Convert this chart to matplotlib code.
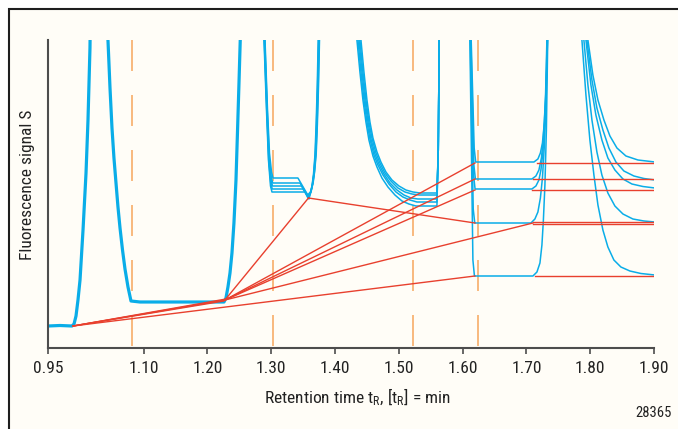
import matplotlib
matplotlib.use("Agg")
import matplotlib.pyplot as plt
from matplotlib import font_manager
from matplotlib.patches import Rectangle

names = {f.name for f in font_manager.fontManager.ttflist}
FAM = "Liberation Sans"
for cand in ["Liberation Sans Narrow", "Roboto Condensed", "Open Sans Condensed", "Arial Narrow"]:
    if cand in names:
        FAM = cand
        break
plt.rcParams["font.family"] = [FAM, "DejaVu Sans"]
plt.rcParams["mathtext.fontset"] = "custom"
plt.rcParams["mathtext.rm"] = FAM
plt.rcParams["mathtext.it"] = FAM
plt.rcParams["lines.scale_dashes"] = False

# ---------------- data (retention time in min, signal in arbitrary units) ----------------
x_ticks = [0.95, 1.10, 1.20, 1.30, 1.40, 1.50, 1.60, 1.70, 1.80, 1.90]
x_tick_labels = ["0.95", "1.10", "1.20", "1.30", "1.40", "1.50", "1.60", "1.70", "1.80", "1.90"]
marker_times = [1.0817, 1.3027, 1.5221, 1.6240]

# part shared by all five runs (baseline, first peak, first plateau, rising edge of 2nd peak)
common_t = [0.9500, 0.9688, 0.9876, 0.9908, 0.9939, 0.9970, 1.0002, 1.0049, 1.0096, 1.0127, 1.0158,
            1.0299, 1.0440, 1.0472, 1.0503, 1.0534, 1.0566, 1.0597, 1.0629, 1.0668, 1.0707, 1.0754,
            1.0801, 1.0942, 1.2259, 1.2290, 1.2321, 1.2353, 1.2384, 1.2415, 1.2447, 1.2470, 1.2494,
            1.2517, 1.2697]
common_s = [22, 22.5, 22, 24, 32, 48, 68, 118, 175, 228, 300,
            1000, 308, 260, 220, 190, 165, 141, 120, 98, 79, 61,
            47, 46, 46, 50, 61, 75, 95, 125, 168, 215, 265,
            315, 1000]

run1 = [(1.2697, 1000), (1.2886, 308), (1.2925, 238), (1.2956, 188), (1.2988, 162), (1.3011, 156),
        (1.3528, 156), (1.3567, 151), (1.3591, 149),
        (1.3606, 153), (1.3638, 162), (1.3661, 173), (1.3685, 193), (1.3703, 223), (1.3721, 263), (1.3736, 308),
        (1.4045, 1000),
        (1.4343, 308), (1.4390, 276), (1.4437, 248), (1.4484, 226), (1.4531, 208), (1.4594, 192), (1.4657, 181),
        (1.4735, 170), (1.4829, 161), (1.4939, 153), (1.5049, 147), (1.5158, 144), (1.5268, 142), (1.5597, 142),
        (1.5618, 198), (1.5633, 308), (1.5879, 1000),
        (1.6114, 308), (1.6161, 88), (1.6185, 72), (1.7102, 72),
        (1.7165, 76), (1.7212, 85), (1.7243, 103), (1.7266, 128), (1.7290, 163), (1.7313, 218), (1.7334, 308),
        (1.7603, 1000),
        (1.7870, 308), (1.7933, 253), (1.7995, 208), (1.8058, 173), (1.8121, 143), (1.8199, 118), (1.8277, 101),
        (1.8371, 88), (1.8481, 81), (1.8622, 77), (1.8795, 74.5), (1.9014, 73)]

run2 = [(1.2697, 1000), (1.2890, 308), (1.2929, 238), (1.2960, 188), (1.2992, 165), (1.3015, 159),
        (1.3497, 159), (1.3586, 150),
        (1.3611, 154), (1.3643, 163), (1.3666, 174), (1.3690, 193), (1.3708, 223), (1.3726, 263), (1.3741, 308),
        (1.4045, 1000),
        (1.4359, 308), (1.4406, 276), (1.4453, 248), (1.4500, 226), (1.4547, 209), (1.4610, 193), (1.4672, 183),
        (1.4751, 173), (1.4845, 164), (1.4955, 156), (1.5064, 151), (1.5174, 148), (1.5284, 146), (1.5597, 146),
        (1.5618, 198), (1.5633, 308), (1.5879, 1000),
        (1.6119, 308), (1.6166, 139), (1.6190, 125), (1.7071, 125),
        (1.7133, 129), (1.7180, 136), (1.7219, 150), (1.7251, 170), (1.7282, 203), (1.7309, 248), (1.7329, 308),
        (1.7603, 1000),
        (1.7901, 308), (1.7964, 263), (1.8027, 228), (1.8105, 196), (1.8183, 173), (1.8277, 155), (1.8387, 142),
        (1.8513, 134), (1.8669, 129), (1.8842, 127), (1.9014, 126)]

run3 = [(1.2697, 1000), (1.2894, 308), (1.2933, 238), (1.2964, 188), (1.2996, 168), (1.3019, 162),
        (1.3473, 162), (1.3581, 151),
        (1.3616, 155), (1.3648, 164), (1.3671, 175), (1.3695, 194), (1.3713, 223), (1.3731, 263), (1.3746, 308),
        (1.4045, 1000),
        (1.4375, 308), (1.4422, 276), (1.4469, 248), (1.4516, 226), (1.4563, 209), (1.4625, 194), (1.4688, 184),
        (1.4766, 174), (1.4861, 165), (1.4970, 158), (1.5080, 153), (1.5190, 150), (1.5299, 149), (1.5597, 149),
        (1.5618, 198), (1.5633, 308), (1.5879, 1000),
        (1.6124, 308), (1.6171, 173), (1.6195, 159), (1.7086, 159),
        (1.7149, 162), (1.7196, 168), (1.7227, 178), (1.7259, 196), (1.7290, 228), (1.7318, 278), (1.7331, 308),
        (1.7603, 1000),
        (1.7933, 308), (1.8011, 263), (1.8089, 233), (1.8183, 208), (1.8277, 190), (1.8387, 178), (1.8513, 169),
        (1.8654, 164), (1.8826, 161.5), (1.9014, 160)]

run4 = [(1.2697, 1000), (1.2898, 308), (1.2937, 238), (1.2968, 190), (1.3000, 171), (1.3023, 165),
        (1.3450, 165), (1.3576, 152),
        (1.3621, 156), (1.3653, 165), (1.3676, 176), (1.3700, 194), (1.3718, 223), (1.3736, 263), (1.3751, 308),
        (1.4045, 1000),
        (1.4390, 308), (1.4437, 276), (1.4484, 248), (1.4531, 226), (1.4578, 210), (1.4641, 195), (1.4704, 185),
        (1.4782, 175), (1.4876, 167), (1.4986, 160), (1.5096, 156), (1.5205, 154), (1.5315, 153), (1.5597, 153),
        (1.5618, 198), (1.5633, 308), (1.5879, 1000),
        (1.6129, 308), (1.6176, 183), (1.6200, 169), (1.7086, 169),
        (1.7149, 172), (1.7196, 178), (1.7235, 190), (1.7266, 210), (1.7298, 248), (1.7321, 308),
        (1.7603, 1000),
        (1.7948, 308), (1.8027, 268), (1.8105, 240), (1.8199, 218), (1.8293, 200), (1.8403, 186), (1.8528, 177),
        (1.8685, 172), (1.8842, 169.5), (1.9014, 168)]

run5 = [(1.2697, 1000), (1.2902, 308), (1.2941, 238), (1.2972, 195), (1.3004, 176), (1.3027, 170),
        (1.3418, 170), (1.3572, 153),
        (1.3626, 157), (1.3658, 166), (1.3681, 177), (1.3705, 195), (1.3723, 224), (1.3741, 263), (1.3756, 308),
        (1.4045, 1000),
        (1.4406, 308), (1.4453, 276), (1.4500, 248), (1.4547, 226), (1.4594, 210), (1.4657, 196), (1.4719, 186),
        (1.4798, 176), (1.4892, 168), (1.5002, 162), (1.5111, 158), (1.5221, 156), (1.5331, 155), (1.5597, 155),
        (1.5618, 198), (1.5633, 308), (1.5879, 1000),
        (1.6134, 308), (1.6181, 200), (1.6205, 186), (1.7118, 186),
        (1.7180, 189), (1.7219, 195), (1.7251, 205), (1.7282, 226), (1.7306, 258), (1.7325, 308),
        (1.7603, 1000),
        (1.7964, 308), (1.8042, 273), (1.8121, 248), (1.8215, 228), (1.8309, 212), (1.8419, 200), (1.8560, 192),
        (1.8748, 188), (1.9014, 186)]

runs = [run1, run2, run3, run4, run5]

# red construction lines: start (t, s) and end (t, s)
red_t0 = [0.9892, 0.9892, 0.9892, 0.9892, 1.2274, 1.2274, 1.2274, 1.2274, 1.2274, 1.3583,
          1.7165, 1.7102, 1.7086, 1.7102, 1.7102, 1.7133]
red_s0 = [22, 22, 22, 22, 48, 48, 48, 48, 48, 150,
          185, 169, 158, 126, 124, 72]
red_t1 = [1.2258, 1.2274, 1.2290, 1.6193, 1.3583, 1.6193, 1.6193, 1.6193, 1.7102, 1.6193,
          1.9014, 1.9014, 1.9014, 1.9014, 1.9014, 1.9014]
red_s1 = [47, 48, 49, 72, 150, 185, 169, 158, 125, 125,
          185, 169, 158, 126, 124, 72]

# ---------------- drawing ----------------
W, H = 678, 429
fig = plt.figure(figsize=(W / 100, H / 100), dpi=100)
fig.patch.set_facecolor("white")
fig.add_artist(Rectangle((9 / W, -0.05), 1.2, 1 - 9 / H + 0.05, transform=fig.transFigure,
                         facecolor="#FFFDF7", edgecolor="#1E1E1E", linewidth=1.5, zorder=0))

ax = fig.add_axes([48 / W, (H - 348) / H, (654 - 48) / W, (348 - 40) / H])
ax.set_facecolor("none")
ax.set_xlim(0.95, 1.90)
ax.set_ylim(0, 308)

BLUE = "#0AADE8"
RED = "#E8402E"
ORANGE = "#F6A65C"

for t in marker_times:
    ln, = ax.plot([t, t], [308, 0], color=ORANGE, lw=1.1, zorder=1)
    ln.set_dashes([22.3, 17.3])

ax.plot(common_t, common_s, color=BLUE, lw=2.3, zorder=2, solid_joinstyle="round")
for r in runs:
    ax.plot([p[0] for p in r], [p[1] for p in r], color=BLUE, lw=1.1, zorder=2,
            solid_joinstyle="round")

for a, b, c, d in zip(red_t0, red_s0, red_t1, red_s1):
    ax.plot([a, c], [b, d], color=RED, lw=1.0, zorder=3)

for side in ["top", "right"]:
    ax.spines[side].set_visible(False)
for side in ["left", "bottom"]:
    ax.spines[side].set_color("#4D4D4D")
    ax.spines[side].set_linewidth(1.5)
ax.set_yticks([])
ax.set_xticks(x_ticks)
ax.set_xticklabels(x_tick_labels, fontsize=12.5, color="#222222")
ax.tick_params(axis="x", direction="out", length=4.5, width=1.2, color="#4D4D4D", pad=5)

fig.text(357 / W, 1 - 397 / H, r"Retention time t$_\mathrm{R}$, [t$_\mathrm{R}$] = min",
         ha="center", va="center", fontsize=12.5, color="#222222")
fig.text(28 / W, 1 - 185 / H, "Fluorescence signal S", rotation=90,
         ha="center", va="center", fontsize=12.5, color="#222222")
fig.text(672 / W, 1 - 413 / H, "28365", ha="right", va="center", fontsize=10.5, color="#222222")

fig.savefig("out.png", dpi=100)
